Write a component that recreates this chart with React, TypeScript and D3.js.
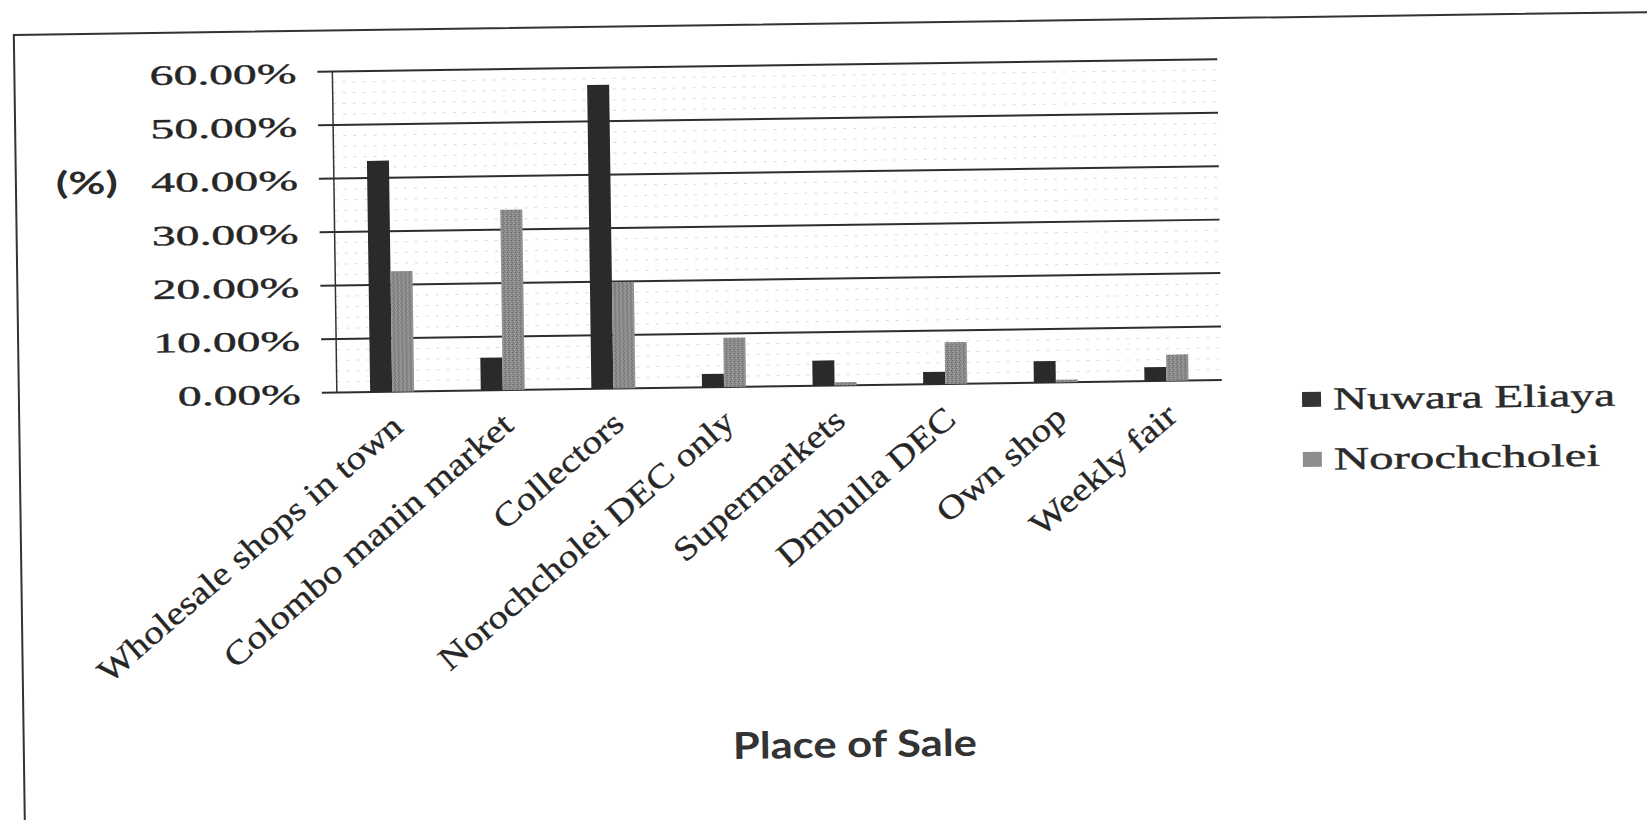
import React from "react";
import * as d3 from "d3";

// place of sale shares
const categories = [
  "Wholesale shops in town",
  "Colombo manin market",
  "Collectors",
  "Norochcholei DEC only",
  "Supermarkets",
  "Dmbulla DEC",
  "Own shop",
  "Weekly fair",
];
const nuwaraEliaya = [0.432, 0.061, 0.568, 0.025, 0.047, 0.023, 0.04, 0.026];
const norochcholei = [0.225, 0.337, 0.199, 0.092, 0.006, 0.078, 0.005, 0.049];
const seriesNames = ["Nuwara Eliaya", "Norochcholei"];
const yTicks = [0, 0.1, 0.2, 0.3, 0.4, 0.5, 0.6];
const legendWidths = [282, 266];

const W = 1647;
const H = 820;
const margin = { top: 65, right: 425, bottom: 434, left: 337 };
const colors = ["#2a2a2a", "url(#grayTex)"];
const legendSwatch = ["#333333", "#8e8e8e"];
const serif = "'Liberation Serif', serif";

export default function App() {
  const y = d3
    .scaleLinear()
    .domain([0, 0.6])
    .range([H - margin.bottom, margin.top]);
  const x0 = d3
    .scaleBand<string>()
    .domain(categories)
    .range([margin.left, W - margin.right]);
  const x1 = d3
    .scaleBand<string>()
    .domain(seriesNames)
    .range([0, 44]);
  const offset = (x0.bandwidth() - 44) / 2;
  const minor = d3.range(0.02, 0.6, 0.02).filter((v) => Math.round(v * 100) % 10 !== 0);
  const fmt = (v: number) => (v * 100).toFixed(2) + "%";
  const series = [nuwaraEliaya, norochcholei];

  return (
    <svg
      width={W}
      height={H}
      style={{ position: "absolute", left: 0, top: 0, background: "#fff" }}
    >
      <defs>
        <pattern id="grayTex" width="4" height="4" patternUnits="userSpaceOnUse">
          <rect width="4" height="4" fill="#8a8a8a" />
          <rect x="0" y="0" width="1" height="1" fill="#5e5e5e" />
          <rect x="2" y="1" width="1" height="1" fill="#b0b0b0" />
          <rect x="1" y="2" width="1" height="1" fill="#6a6a6a" />
          <rect x="3" y="3" width="1" height="1" fill="#a8a8a8" />
        </pattern>
      </defs>
      <g transform="rotate(-0.8 800 400)">
        <rect x={19} y={24} width={1700} height={900} fill="none" stroke="#333" strokeWidth={2} />

        {minor.map((v) => (
          <line
            key={"m" + v}
            x1={margin.left}
            x2={W - margin.right}
            y1={y(v)}
            y2={y(v)}
            stroke="#b8b8b8"
            strokeWidth={1}
            strokeDasharray="3,7"
            opacity={0.5}
          />
        ))}

        {yTicks.map((t) => (
          <g key={t}>
            <line
              x1={margin.left - 15}
              x2={W - margin.right}
              y1={y(t)}
              y2={y(t)}
              stroke="#2e2e2e"
              strokeWidth={2}
            />
            <text
              transform={`translate(301,${y(t) + 11}) scale(1.7,1)`}
              textAnchor="end"
              fontFamily={serif}
              fontSize={28}
              fill="#262626"
              stroke="#262626"
              strokeWidth={0.4}
            >
              {fmt(t)}
            </text>
          </g>
        ))}
        <line
          x1={margin.left}
          x2={margin.left}
          y1={y(0.6)}
          y2={y(0)}
          stroke="#333"
          strokeWidth={1.5}
        />

        {categories.map((c, i) => (
          <g key={c} transform={`translate(${(x0(c) as number) + offset},0)`}>
            {series.map((s, j) => (
              <rect
                key={j}
                x={x1(seriesNames[j]) as number}
                y={y(s[i])}
                width={x1.bandwidth()}
                height={y(0) - y(s[i])}
                fill={colors[j]}
              />
            ))}
          </g>
        ))}

        {categories.map((c) => (
          <text
            key={"l" + c}
            transform={`translate(${(x0(c) as number) + x0.bandwidth() / 2 + 12},424) rotate(-40) scale(1.18,1)`}
            textAnchor="end"
            fontFamily={serif}
            fontSize={33}
            fill="#262626"
            stroke="#262626"
            strokeWidth={0.3}
          >
            {c}
          </text>
        ))}

        <text
          x={90}
          y={184}
          textAnchor="middle"
          fontFamily="Lato, sans-serif"
          fontWeight="bold"
          fontSize={31}
          textLength={62}
          lengthAdjust="spacingAndGlyphs"
          fill="#2a2a2a"
        >
          (%)
        </text>

        <text
          x={850}
          y={758}
          textAnchor="middle"
          fontFamily="Lato, sans-serif"
          fontWeight="bold"
          fontSize={37}
          textLength={244}
          lengthAdjust="spacingAndGlyphs"
          fill="#333"
        >
          Place of Sale
        </text>

        {seriesNames.map((n, j) => (
          <g key={n} transform={`translate(1302,${407 + j * 60})`}>
            <rect x={0} y={-8} width={19} height={15} fill={legendSwatch[j]} />
            <text
              x={31}
              y={10}
              fontFamily={serif}
              fontSize={32}
              textLength={legendWidths[j]}
              lengthAdjust="spacingAndGlyphs"
              fill="#2a2a2a"
              stroke="#2a2a2a"
              strokeWidth={0.4}
            >
              {n}
            </text>
          </g>
        ))}
      </g>
    </svg>
  );
}
